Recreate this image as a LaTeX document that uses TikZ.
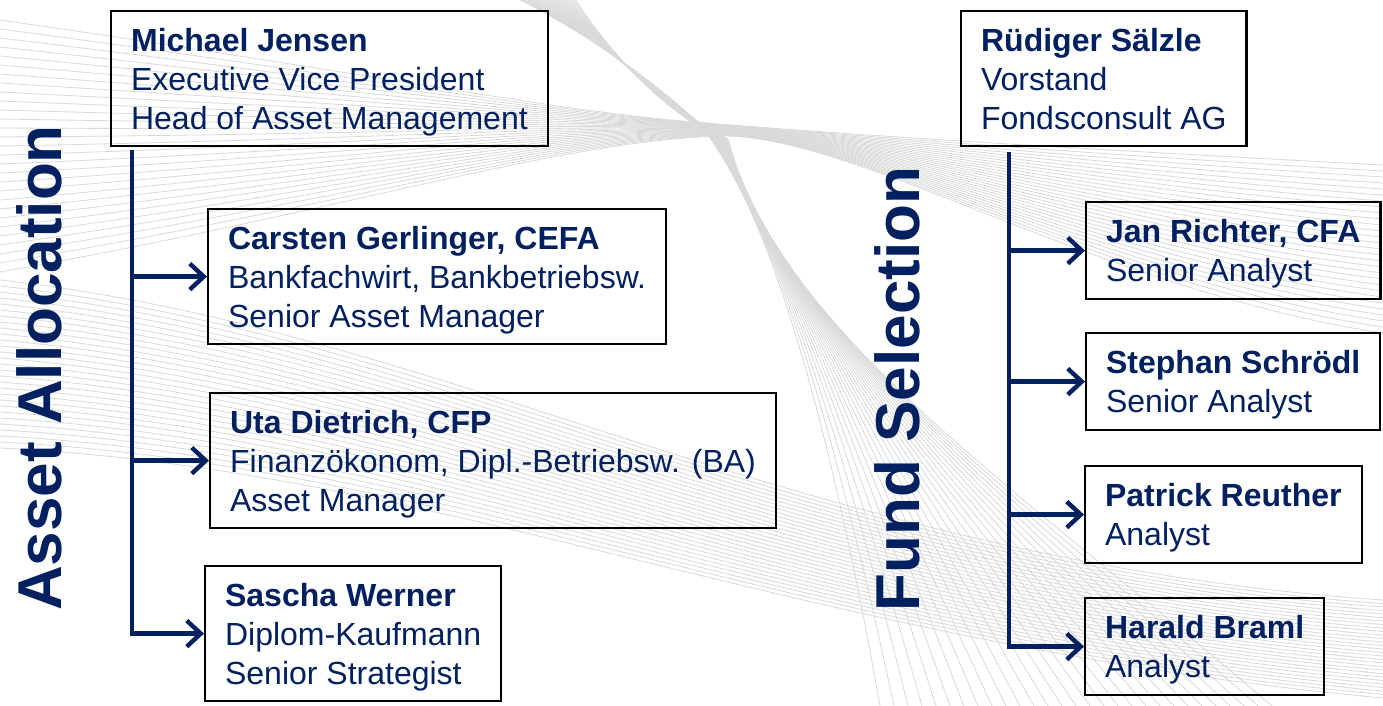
\documentclass[tikz,border=0pt]{standalone}
\usepackage{fontspec}
\setmainfont{Liberation Sans}
\usetikzlibrary{arrows.meta,positioning}
\definecolor{navy}{HTML}{002060}

\begin{document}
\begin{tikzpicture}[x=0.5pt,y=-0.5pt,
    every node/.style={font=\fontsize{16}{19.5}\selectfont, text=navy},
    personBox/.style={draw=black, line width=1.1pt, anchor=north west, align=left, inner xsep=10pt, text depth=0pt, minimum height=67.5pt},
    shortBox/.style={personBox, minimum height=48.5pt},
    teamTitle/.style={rotate=90, inner sep=0pt, font=\fontsize{31}{31}\selectfont\bfseries},
    trunkLine/.style={draw=navy, line width=2.2pt},
    branchArrow/.style={trunkLine, -{Straight Barb[length=7pt,width=13pt]}},
    waveLine/.style={draw=black!15, line width=0.4pt}
]
    \useasboundingbox[fill=white] (0,0) rectangle (1383,706);

    % Hintergrund: Wellenbaender
    \foreach \i in {0,...,28} {
        \draw[waveLine] (0, 20+9*\i) .. controls (350, 70+5*\i) and (560, 112+\i) .. (695+\i,122+0.5*\i)
            .. controls (860, 136) and (1100, 150+5*\i) .. (1383, 165+6*\i);
        \draw[waveLine] (520+2*\i, 0) .. controls (600, 40) and (670, 95+\i) .. (700+\i,125+0.5*\i)
            .. controls (780, 220+4*\i) and (840+6*\i, 480) .. (880+14*\i, 706);
        \draw[waveLine] (0, 280+6*\i) .. controls (450, 330+5*\i) and (800, 560+3*\i) .. (1383, 600+3.5*\i);
    }

    % Asset Allocation
    \node[teamTitle] (aaTitle) at (39,368) {Asset Allocation};
    \node[personBox] (jensen) at (110,10) {\textbf{Michael Jensen}\\Executive Vice President\\Head of Asset Management};
    \node[personBox] (gerlinger) at (207,208) {\textbf{Carsten Gerlinger, CEFA}\\Bankfachwirt, Bankbetriebsw.\\Senior Asset Manager};
    \node[personBox] (dietrich) at (209,392) {\textbf{Uta Dietrich, CFP}\\Finanzökonom, Dipl.-Betriebsw. (BA)\\Asset Manager};
    \node[personBox] (werner) at (204,565) {\textbf{Sascha Werner}\\Diplom-Kaufmann\\Senior Strategist};

    \coordinate (aaTop) at (132,150);
    \draw[branchArrow] (aaTop) |- (werner.west);
    \draw[branchArrow] (aaTop |- gerlinger.west) -- (gerlinger.west);
    \draw[branchArrow] (aaTop |- dietrich.west) -- (dietrich.west);

    % Fund Selection
    \node[teamTitle] (fsTitle) at (897,389) {Fund Selection};
    \node[personBox] (saelzle) at (960,10) {\textbf{Rüdiger Sälzle}\\Vorstand\\Fondsconsult AG};
    \node[shortBox] (richter) at (1085,201) {\textbf{Jan Richter, CFA}\\Senior Analyst};
    \node[shortBox] (schroedl) at (1085,332) {\textbf{Stephan Schrödl}\\Senior Analyst};
    \node[shortBox] (reuther) at (1084,465) {\textbf{Patrick Reuther}\\Analyst};
    \node[shortBox] (braml) at (1084,597) {\textbf{Harald Braml}\\Analyst};

    \coordinate (fsTop) at (1009,152);
    \draw[branchArrow] (fsTop) |- (braml.west);
    \draw[branchArrow] (fsTop |- richter.west) -- (richter.west);
    \draw[branchArrow] (fsTop |- schroedl.west) -- (schroedl.west);
    \draw[branchArrow] (fsTop |- reuther.west) -- (reuther.west);
\end{tikzpicture}
\end{document}
